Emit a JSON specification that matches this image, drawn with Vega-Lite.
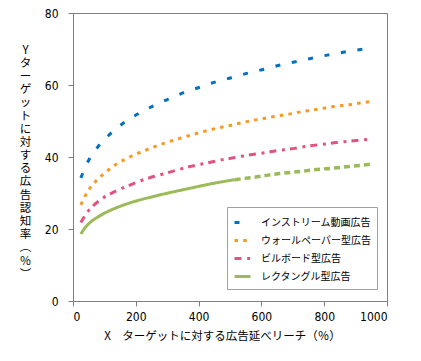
{
  "$schema": "https://vega.github.io/schema/vega-lite/v6.json",
  "width": 314,
  "height": 288,
  "autosize": {"type": "none"},
  "padding": {"left": 73, "top": 13, "right": 34, "bottom": 60},
  "background": "white",
  "config": {
    "view": {"stroke": "#808080", "strokeWidth": 1},
    "axis": {
      "grid": false,
      "domainColor": "#808080",
      "tickColor": "#808080",
      "tickSize": 5,
      "labelFont": "Liberation Sans Narrow, DejaVu Sans Condensed, Liberation Sans, sans-serif",
      "labelFontSize": 12,
      "labelColor": "#000000",
      "titleFont": "Noto Sans CJK JP",
      "titleFontWeight": "normal",
      "titleColor": "#000000"
    },
    "axisY": {"titleLineHeight": 13.2}
  },
  "data": {
    "values": [
      {"series": "インストリーム動画広告", "seg": "main", "x": 25, "y": 34.2},
      {"series": "インストリーム動画広告", "seg": "main", "x": 48, "y": 38.8},
      {"series": "インストリーム動画広告", "seg": "main", "x": 79, "y": 42.8},
      {"series": "インストリーム動画広告", "seg": "main", "x": 116, "y": 46.2},
      {"series": "インストリーム動画広告", "seg": "main", "x": 157, "y": 49.2},
      {"series": "インストリーム動画広告", "seg": "main", "x": 203, "y": 51.8},
      {"series": "インストリーム動画広告", "seg": "main", "x": 251, "y": 54},
      {"series": "インストリーム動画広告", "seg": "main", "x": 299, "y": 55.9},
      {"series": "インストリーム動画広告", "seg": "main", "x": 350, "y": 57.8},
      {"series": "インストリーム動画広告", "seg": "main", "x": 401, "y": 59.3},
      {"series": "インストリーム動画広告", "seg": "main", "x": 452, "y": 60.8},
      {"series": "インストリーム動画広告", "seg": "main", "x": 504, "y": 62},
      {"series": "インストリーム動画広告", "seg": "main", "x": 557, "y": 63.3},
      {"series": "インストリーム動画広告", "seg": "main", "x": 610, "y": 64.4},
      {"series": "インストリーム動画広告", "seg": "main", "x": 662, "y": 65.6},
      {"series": "インストリーム動画広告", "seg": "main", "x": 716, "y": 66.6},
      {"series": "インストリーム動画広告", "seg": "main", "x": 769, "y": 67.6},
      {"series": "インストリーム動画広告", "seg": "main", "x": 822, "y": 68.5},
      {"series": "インストリーム動画広告", "seg": "main", "x": 875, "y": 69.3},
      {"series": "インストリーム動画広告", "seg": "main", "x": 928, "y": 70},
      {"series": "インストリーム動画広告", "seg": "main", "x": 950, "y": 70.3},
      {"series": "ウォールペーパー型広告", "seg": "main", "x": 25, "y": 26.7},
      {"series": "ウォールペーパー型広告", "seg": "main", "x": 40, "y": 29.4},
      {"series": "ウォールペーパー型広告", "seg": "main", "x": 55, "y": 31.5},
      {"series": "ウォールペーパー型広告", "seg": "main", "x": 73, "y": 33.3},
      {"series": "ウォールペーパー型広告", "seg": "main", "x": 95, "y": 35.1},
      {"series": "ウォールペーパー型広告", "seg": "main", "x": 116, "y": 36.6},
      {"series": "ウォールペーパー型広告", "seg": "main", "x": 140, "y": 38.1},
      {"series": "ウォールペーパー型広告", "seg": "main", "x": 165, "y": 39.3},
      {"series": "ウォールペーパー型広告", "seg": "main", "x": 190, "y": 40.4},
      {"series": "ウォールペーパー型広告", "seg": "main", "x": 217, "y": 41.4},
      {"series": "ウォールペーパー型広告", "seg": "main", "x": 243, "y": 42.3},
      {"series": "ウォールペーパー型広告", "seg": "main", "x": 270, "y": 43.2},
      {"series": "ウォールペーパー型広告", "seg": "main", "x": 297, "y": 44.0},
      {"series": "ウォールペーパー型広告", "seg": "main", "x": 325, "y": 44.8},
      {"series": "ウォールペーパー型広告", "seg": "main", "x": 353, "y": 45.5},
      {"series": "ウォールペーパー型広告", "seg": "main", "x": 380, "y": 46.2},
      {"series": "ウォールペーパー型広告", "seg": "main", "x": 408, "y": 46.9},
      {"series": "ウォールペーパー型広告", "seg": "main", "x": 435, "y": 47.5},
      {"series": "ウォールペーパー型広告", "seg": "main", "x": 463, "y": 48.1},
      {"series": "ウォールペーパー型広告", "seg": "main", "x": 492, "y": 48.6},
      {"series": "ウォールペーパー型広告", "seg": "main", "x": 520, "y": 49.2},
      {"series": "ウォールペーパー型広告", "seg": "main", "x": 547, "y": 49.7},
      {"series": "ウォールペーパー型広告", "seg": "main", "x": 575, "y": 50.2},
      {"series": "ウォールペーパー型広告", "seg": "main", "x": 603, "y": 50.6},
      {"series": "ウォールペーパー型広告", "seg": "main", "x": 631, "y": 51.1},
      {"series": "ウォールペーパー型広告", "seg": "main", "x": 659, "y": 51.5},
      {"series": "ウォールペーパー型広告", "seg": "main", "x": 688, "y": 51.9},
      {"series": "ウォールペーパー型広告", "seg": "main", "x": 716, "y": 52.4},
      {"series": "ウォールペーパー型広告", "seg": "main", "x": 744, "y": 52.8},
      {"series": "ウォールペーパー型広告", "seg": "main", "x": 773, "y": 53.2},
      {"series": "ウォールペーパー型広告", "seg": "main", "x": 802, "y": 53.6},
      {"series": "ウォールペーパー型広告", "seg": "main", "x": 829, "y": 54},
      {"series": "ウォールペーパー型広告", "seg": "main", "x": 858, "y": 54.3},
      {"series": "ウォールペーパー型広告", "seg": "main", "x": 887, "y": 54.6},
      {"series": "ウォールペーパー型広告", "seg": "main", "x": 914, "y": 55},
      {"series": "ウォールペーパー型広告", "seg": "main", "x": 950, "y": 55.4},
      {"series": "ビルボード型広告", "seg": "main", "x": 25, "y": 21.8},
      {"series": "ビルボード型広告", "seg": "main", "x": 45, "y": 24.6},
      {"series": "ビルボード型広告", "seg": "main", "x": 66, "y": 26.6},
      {"series": "ビルボード型広告", "seg": "main", "x": 92, "y": 28.4},
      {"series": "ビルボード型広告", "seg": "main", "x": 122, "y": 29.9},
      {"series": "ビルボード型広告", "seg": "main", "x": 151, "y": 31.1},
      {"series": "ビルボード型広告", "seg": "main", "x": 181, "y": 32.2},
      {"series": "ビルボード型広告", "seg": "main", "x": 212, "y": 33.3},
      {"series": "ビルボード型広告", "seg": "main", "x": 243, "y": 34.2},
      {"series": "ビルボード型広告", "seg": "main", "x": 276, "y": 35.0},
      {"series": "ビルボード型広告", "seg": "main", "x": 308, "y": 35.8},
      {"series": "ビルボード型広告", "seg": "main", "x": 340, "y": 36.6},
      {"series": "ビルボード型広告", "seg": "main", "x": 375, "y": 37.4},
      {"series": "ビルボード型広告", "seg": "main", "x": 407, "y": 38.0},
      {"series": "ビルボード型広告", "seg": "main", "x": 441, "y": 38.6},
      {"series": "ビルボード型広告", "seg": "main", "x": 473, "y": 39.2},
      {"series": "ビルボード型広告", "seg": "main", "x": 506, "y": 39.7},
      {"series": "ビルボード型広告", "seg": "main", "x": 538, "y": 40.2},
      {"series": "ビルボード型広告", "seg": "main", "x": 572, "y": 40.7},
      {"series": "ビルボード型広告", "seg": "main", "x": 605, "y": 41.1},
      {"series": "ビルボード型広告", "seg": "main", "x": 639, "y": 41.6},
      {"series": "ビルボード型広告", "seg": "main", "x": 671, "y": 42},
      {"series": "ビルボード型広告", "seg": "main", "x": 705, "y": 42.4},
      {"series": "ビルボード型広告", "seg": "main", "x": 738, "y": 42.9},
      {"series": "ビルボード型広告", "seg": "main", "x": 772, "y": 43.3},
      {"series": "ビルボード型広告", "seg": "main", "x": 804, "y": 43.6},
      {"series": "ビルボード型広告", "seg": "main", "x": 838, "y": 44},
      {"series": "ビルボード型広告", "seg": "main", "x": 869, "y": 44.3},
      {"series": "ビルボード型広告", "seg": "main", "x": 903, "y": 44.6},
      {"series": "ビルボード型広告", "seg": "main", "x": 950, "y": 45},
      {"series": "レクタングル型広告", "seg": "main", "x": 25, "y": 18.6},
      {"series": "レクタングル型広告", "seg": "main", "x": 37, "y": 20.2},
      {"series": "レクタングル型広告", "seg": "main", "x": 53, "y": 21.7},
      {"series": "レクタングル型広告", "seg": "main", "x": 75, "y": 23.1},
      {"series": "レクタングル型広告", "seg": "main", "x": 96, "y": 24.2},
      {"series": "レクタングル型広告", "seg": "main", "x": 127, "y": 25.5},
      {"series": "レクタングル型広告", "seg": "main", "x": 159, "y": 26.6},
      {"series": "レクタングル型広告", "seg": "main", "x": 202, "y": 27.8},
      {"series": "レクタングル型広告", "seg": "main", "x": 255, "y": 29},
      {"series": "レクタングル型広告", "seg": "main", "x": 308, "y": 30.1},
      {"series": "レクタングル型広告", "seg": "main", "x": 361, "y": 31.1},
      {"series": "レクタングル型広告", "seg": "main", "x": 414, "y": 32.1},
      {"series": "レクタングル型広告", "seg": "main", "x": 467, "y": 33},
      {"series": "レクタングル型広告", "seg": "main", "x": 515, "y": 33.7},
      {"series": "レクタングル型広告", "seg": "ext", "x": 515, "y": 33.7},
      {"series": "レクタングル型広告", "seg": "ext", "x": 541, "y": 34},
      {"series": "レクタングル型広告", "seg": "ext", "x": 578, "y": 34.4},
      {"series": "レクタングル型広告", "seg": "ext", "x": 616, "y": 34.9},
      {"series": "レクタングル型広告", "seg": "ext", "x": 658, "y": 35.4},
      {"series": "レクタングル型広告", "seg": "ext", "x": 701, "y": 35.8},
      {"series": "レクタングル型広告", "seg": "ext", "x": 743, "y": 36.2},
      {"series": "レクタングル型広告", "seg": "ext", "x": 786, "y": 36.6},
      {"series": "レクタングル型広告", "seg": "ext", "x": 828, "y": 36.9},
      {"series": "レクタングル型広告", "seg": "ext", "x": 871, "y": 37.3},
      {"series": "レクタングル型広告", "seg": "ext", "x": 917, "y": 37.7},
      {"series": "レクタングル型広告", "seg": "ext", "x": 958, "y": 38.1}
    ]
  },
  "encoding": {
    "x": {
      "field": "x", "type": "quantitative",
      "scale": {"domain": [0, 1000], "nice": false, "zero": true},
      "axis": {
        "values": [0, 200, 400, 600, 800, 1000],
        "format": "d",
        "labelPadding": 5,
        "title": "X　ターゲットに対する広告延べリーチ（％）",
        "titleFontSize": 11.5,
        "titleX": 149,
        "titleY": 35,
        "titleAlign": "center",
        "titleBaseline": "middle"
      }
    },
    "y": {
      "field": "y", "type": "quantitative",
      "scale": {"domain": [0, 80], "nice": false},
      "axis": {
        "values": [0, 20, 40, 60, 80],
        "labelPadding": 10,
        "title": ["Y", "タ", "ー", "ゲ", "ッ", "ト", "に", "対", "す", "る", "広", "告", "認", "知", "率", "︵", "％", "︶"],
        "titleAngle": 0,
        "titleFontSize": 11.5,
        "titleLineHeight": 13.2,
        "titleX": -48,
        "titleY": 31,
        "titleAlign": "center",
        "titleBaseline": "top"
      }
    }
  },
  "layer": [
    {
      "transform": [{"filter": "datum.seg === 'main'"}],
      "mark": {"type": "line", "interpolate": "monotone", "strokeWidth": 3, "strokeCap": "butt"},
      "encoding": {
        "color": {
          "field": "series", "type": "nominal",
          "scale": {
            "domain": ["インストリーム動画広告", "ウォールペーパー型広告", "ビルボード型広告", "レクタングル型広告"],
            "range": ["#0070c0", "#f59a23", "#e2527f", "#9bbb59"]
          },
          "legend": {
            "title": null,
            "orient": "none",
            "legendX": 154,
            "legendY": 194,
            "direction": "vertical",
            "strokeColor": "#a0a0a0",
            "fillColor": "white",
            "padding": 6,
            "rowPadding": 2,
            "symbolType": "stroke",
            "symbolSize": 256,
            "symbolStrokeWidth": 3,
            "labelOffset": 9,
            "labelFont": "Noto Sans CJK JP",
            "labelFontSize": 10,
            "labelColor": "#000000",
            "labelLimit": 200,
            "encode": {
              "symbols": {
                "update": {
                  "strokeDash": {"signal": "datum.value === 'インストリーム動画広告' ? [3.7, 4.6] : datum.value === 'ウォールペーパー型広告' ? [2.7, 3] : datum.value === 'ビルボード型広告' ? [3.7, 4.6, 6.7, 10] : [1, 0]"}
                }
              }
            }
          }
        },
        "strokeDash": {
          "field": "series", "type": "nominal",
          "scale": {
            "domain": ["インストリーム動画広告", "ウォールペーパー型広告", "ビルボード型広告", "レクタングル型広告"],
            "range": [[5, 11.7], [3.5, 5.2], [7, 5.7, 3, 5], [1, 0]]
          },
          "legend": null
        }
      }
    },
    {
      "transform": [{"filter": "datum.seg === 'ext'"}],
      "mark": {"type": "line", "interpolate": "monotone", "strokeWidth": 3.5, "color": "#9bbb59", "strokeDash": [6, 4], "strokeCap": "butt"},
      "encoding": {}
    }
  ]
}
